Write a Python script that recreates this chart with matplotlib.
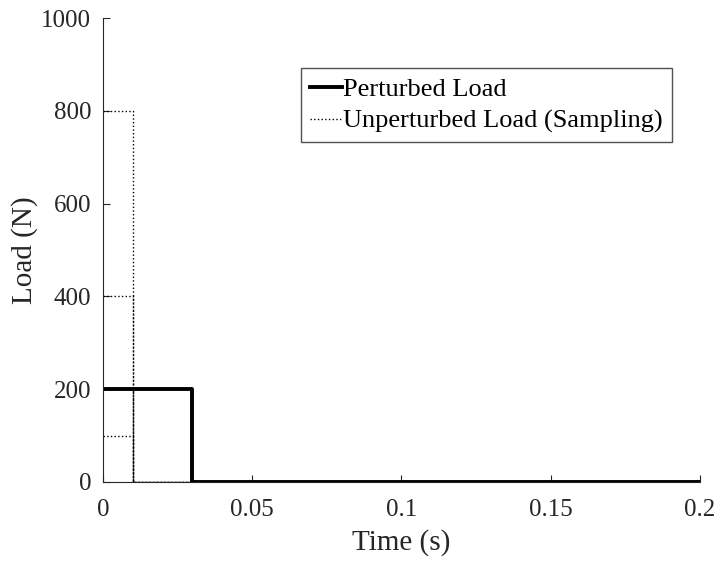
import matplotlib
matplotlib.use("Agg")
import matplotlib.pyplot as plt

plt.rcParams['font.family'] = ['Liberation Serif', 'DejaVu Serif']

# Perturbed load (step)
pert_t = [0.0, 0.03, 0.03, 0.2]
pert_load = [200, 200, 0, 0]

# Unperturbed sampled loads: amplitude held for pulse duration
sample_amps = [800, 400, 200, 100]
pulse_end = 0.01
t_end = 0.2

fig = plt.figure(figsize=(7.2, 5.63), dpi=100)
ax = fig.add_axes([0.143, 0.144, 0.829, 0.824])

h1, = ax.plot(pert_t, pert_load, color='black', lw=2.8, label='Perturbed Load')
h2 = None
for a in sample_amps:
    h2, = ax.plot([0, pulse_end, pulse_end, t_end], [a, a, 0, 0], color='black',
                  lw=1.0, ls=':', label='Unperturbed Load (Sampling)')

ax.set_xlim(0, 0.2)
ax.set_ylim(0, 1000)
ax.set_xticks([0, 0.05, 0.1, 0.15, 0.2])
ax.set_xticklabels(['0', '0.05', '0.1', '0.15', '0.2'])
ax.set_yticks([0, 200, 400, 600, 800, 1000])
ax.spines['top'].set_visible(False)
ax.spines['right'].set_visible(False)
for s in ('left', 'bottom'):
    ax.spines[s].set_color('#262626')
ax.tick_params(direction='in', length=5, labelsize=18, colors='#262626')
ax.tick_params(axis='x', pad=12)
ax.tick_params(axis='y', pad=8.5)
ax.set_xlabel('Time (s)', fontsize=21, color='#262626', labelpad=6)
ax.set_ylabel('Load (N)', fontsize=21, color='#262626', labelpad=2)

leg = ax.legend(handles=[h1, h2], loc='upper left', bbox_to_anchor=(0.332, 0.892),
                fontsize=19, frameon=True, fancybox=False, edgecolor='#262626',
                handlelength=1.2, handletextpad=0.05, borderpad=0.35, labelspacing=0.32,
                borderaxespad=0)
leg.get_frame().set_linewidth(1.0)

fig.savefig('out.png', dpi=100)
